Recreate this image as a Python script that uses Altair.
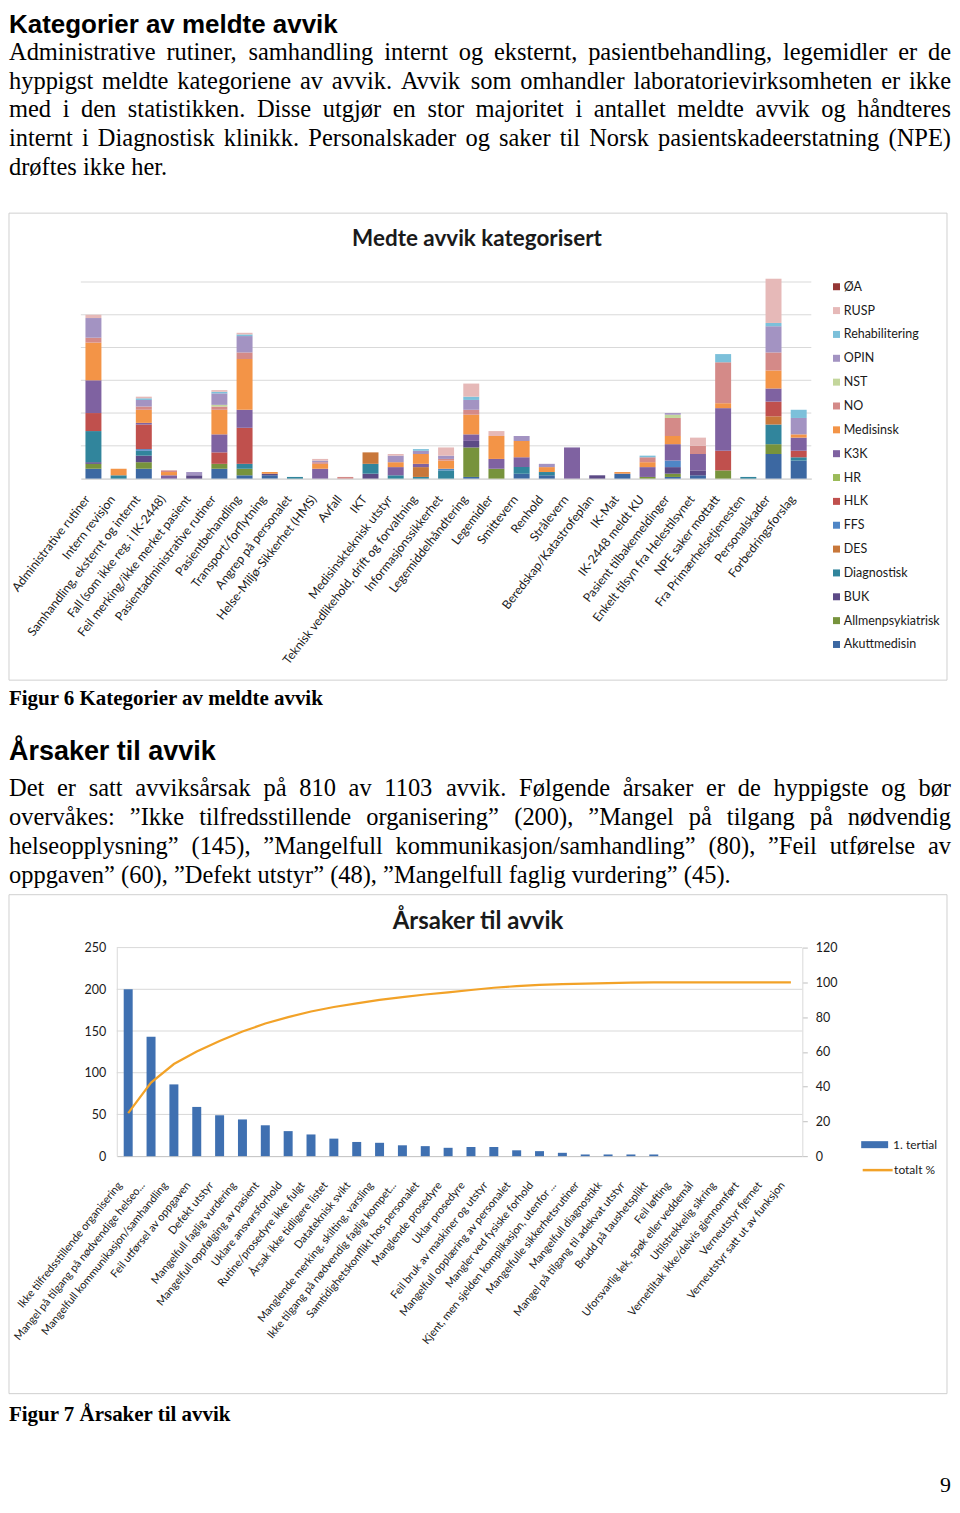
import altair as alt
import pandas as pd

# ------------------------------------------------------------------ page text
heading1 = "Kategorier av meldte avvik"
para1 = [
    "Administrative rutiner, samhandling internt og eksternt, pasientbehandling, legemidler er de",
    "hyppigst meldte kategoriene av avvik. Avvik som omhandler laboratorievirksomheten er ikke",
    "med i den statistikken. Disse utgjør en stor majoritet i antallet meldte avvik og håndteres",
    "internt i Diagnostisk klinikk. Personalskader og saker til Norsk pasientskadeerstatning (NPE)",
    "drøftes ikke her.",
]
caption1 = "Figur 6 Kategorier av meldte avvik"
heading2 = "Årsaker til avvik"
para2 = [
    "Det er satt avviksårsak på 810 av 1103 avvik. Følgende årsaker er de hyppigste og bør",
    "overvåkes: ”Ikke tilfredsstillende organisering” (200), ”Mangel på tilgang på nødvendig",
    "helseopplysning” (145), ”Mangelfull kommunikasjon/samhandling” (80), ”Feil utførelse av",
    "oppgaven” (60), ”Defekt utstyr” (48), ”Mangelfull faglig vurdering” (45).",
]
caption2 = "Figur 7 Årsaker til avvik"
page_number = "9"

# ------------------------------------------------------------------ figure 6 data
title1 = "Medte avvik kategorisert"
categories1 = [
    "Administrative rutiner", "Intern revisjon", "Samhandling, eksternt og internt",
    "Fall (som ikke reg. i IK-2448)", "Feil merking/ikke merket pasient",
    "Pasientadministrative rutiner", "Pasientbehandling", "Transport/forflytning",
    "Angrep på personalet", "Helse-Miljø-Sikkerhet (HMS)", "Avfall", "IKT",
    "Medisinskteknisk utstyr", "Teknisk vedlikehold, drift og forvaltning",
    "Informasjonssikkerhet", "Legemiddelhåndtering", "Legemidler", "Smittevern",
    "Renhold", "Strålevern", "Beredskap/Katastrofeplan", "IK-Mat", "IK-2448 meldt KU",
    "Pasient tilbakemeldinger", "Enkelt tilsyn fra Helestilsynet", "NPE saker mottatt",
    "Fra Primærhelsetjenesten", "Personalskader", "Forbedringsforslag",
]
akuttmedisin      = [6,0,6,0,0,6,2,2,0,0,0,0,0,0,0,1,0,3,2,0,0,3,0,1,2,0,0,15,11]
allmenpsykiatrisk = [3,0,4,0,0,3,4,0,0,0,0,0,0,0,0,18,6,0,0,0,0,0,1,2,0,5,0,6,0]
buk               = [1,0,4,0,2,0,0,1,0,0,0,3,0,0,0,4,0,0,0,0,2,0,0,4,3,0,0,0,0]
diagnostisk       = [19,2,3,0,0,0,3,0,1,0,0,6,2,1,5,0,0,4,2,0,0,0,0,0,0,0,1,12,2]
des               = [0,0,0,0,0,0,0,0,0,0,0,7,0,6,0,0,0,0,0,0,0,0,0,0,0,0,0,5,0]
ffs               = [0,0,1,0,0,0,0,0,0,0,0,0,0,0,1,0,0,0,0,0,0,0,0,4,0,0,0,0,0]
hlk               = [11,0,15,0,0,7,22,0,0,0,0,0,0,0,0,0,0,0,0,0,0,0,0,0,0,12,0,9,4]
hr                = [0]*29
k3k               = [20,0,1,2,0,11,11,0,0,6,0,0,5,2,0,4,6,6,0,19,0,0,6,10,10,26,0,8,8]
medisinsk         = [23,4,8,2,0,15,31,1,0,3,0,0,3,6,5,12,14,10,3,0,0,1,3,5,0,3,0,11,2]
no_               = [3,0,2,1,0,2,4,0,0,1,1,0,0,0,1,3,0,0,0,0,0,0,3,11,5,25,0,11,0]
nst               = [0,0,0,0,0,1,0,0,0,0,0,0,0,0,0,0,0,0,0,0,0,0,0,2,0,0,0,0,0]
opin              = [12,0,4,0,2,7,10,0,0,1,0,0,4,2,2,6,0,3,2,0,0,0,0,1,0,0,0,16,10]
rehabilitering    = [0,0,1,0,0,1,1,0,0,0,0,0,0,1,0,2,0,0,0,0,0,0,1,0,0,5,0,2,5]
rusp              = [2,0,1,0,0,1,1,0,0,1,0,0,1,0,5,8,3,0,0,0,0,0,0,0,5,0,0,27,0]
oa                = [0]*29

stack_order = ["Akuttmedisin", "Allmenpsykiatrisk", "BUK", "Diagnostisk", "DES", "FFS",
               "HLK", "HR", "K3K", "Medisinsk", "NO", "NST", "OPIN", "Rehabilitering",
               "RUSP", "ØA"]
series_lists = [akuttmedisin, allmenpsykiatrisk, buk, diagnostisk, des, ffs, hlk, hr, k3k,
                medisinsk, no_, nst, opin, rehabilitering, rusp, oa]
legend_order = list(reversed(stack_order))
series_colors = {
    "ØA": "#953735", "RUSP": "#e6b9b8", "Rehabilitering": "#7cc0da", "OPIN": "#a393c2",
    "NST": "#c3d69b", "NO": "#d48a88", "Medisinsk": "#f39447", "K3K": "#7f62a1",
    "HR": "#9bbb59", "HLK": "#c0504d", "FFS": "#4f86c6", "DES": "#c8773a",
    "Diagnostisk": "#31859c", "BUK": "#5c4a86", "Allmenpsykiatrisk": "#77933c",
    "Akuttmedisin": "#3c68a2",
}
ticks1 = [0, 20, 40, 60, 80, 100, 120]

# ------------------------------------------------------------------ figure 7 data
title2 = "Årsaker til avvik"
causes = [
    "Ikke tilfredsstillende organisering", "Mangel på tilgang på nødvendige helseo...",
    "Mangelfull kommunikasjon/samhandling", "Feil utførsel av oppgaven", "Defekt utstyr",
    "Mangelfull faglig vurdering", "Mangelfull oppfølging av pasient", "Uklare ansvarsforhold",
    "Rutine/prosedyre ikke fulgt", "Årsak ikke tidligere listet", "Datateknisk svikt",
    "Manglende merking, skilting, varsling", "Ikke tilgang på nødvendig faglig kompet...",
    "Samtidighetskonflikt hos personalet", "Manglende prosedyre", "Uklar prosedyre",
    "Feil bruk av maskiner og utstyr", "Mangelfull opplæring av personalet",
    "Mangler ved fysiske forhold", "Kjent, men sjelden komplikasjon, utenfor ...",
    "Mangelfulle sikkerhetsrutiner", "Mangelfull diagnostikk",
    "Mangel på tilgang til adekvat utstyr", "Brudd på taushetsplikt", "Feil løfting",
    "Uforsvarlig lek, spøk eller veddemål", "Utilstrekkelig sikring",
    "Vernetiltak ikke/delvis gjennomført", "Verneutstyr fjernet",
    "Verneutstyr satt ut av funksjon",
]
tertial1 = [200,143,86,59,49,44,37,30,26,21,17,16,13,12,10,11,11,7,6,4,2,2,2,2,0,0,0,0,0,0]
totalt_pct = [24.7,42.3,53.0,60.2,66.3,71.7,76.3,80.0,83.2,85.8,87.9,89.9,91.5,93.0,94.2,
              95.6,96.9,97.8,98.5,99.0,99.3,99.5,99.8,100,100,100,100,100,100,100]
ticks2_left = [0, 50, 100, 150, 200, 250]
ticks2_right = [0, 20, 40, 60, 80, 100, 120]
bar_color = "#3f70b1"
line_color = "#f2a228"

# ------------------------------------------------------------------ text helpers
_TW = {' ': 250, '!': 333, '(': 333, ')': 333, ',': 250, '-': 333, '.': 250, '/': 278,
       ':': 278, ';': 278, '%': 833, '”': 444, '“': 444, '"': 408}
for _c in '0123456789':
    _TW[_c] = 500
_TW.update(dict(zip('ABCDEFGHIJKLMNOPQRSTUVWXYZ',
    [722,667,667,722,611,556,722,722,333,389,722,611,889,722,722,556,722,667,556,611,722,722,944,722,722,611])))
_TW.update(dict(zip('abcdefghijklmnopqrstuvwxyz',
    [444,500,444,500,444,333,500,500,278,278,500,278,778,500,500,500,500,333,389,278,500,500,722,500,500,444])))
_TW.update({'å': 444, 'ø': 500, 'æ': 667, 'Å': 722, 'Ø': 722, 'Æ': 889})


def serif_width(s, fs):
    return sum(_TW.get(c, 500) for c in s) * fs / 1000.0


def justify(lines, baselines, fs, left, right):
    rows = []
    for k, (line, yb) in enumerate(zip(lines, baselines)):
        words = line.split(' ')
        if k == len(lines) - 1 or len(words) == 1:
            gap = _TW[' '] * fs / 1000.0
        else:
            total = sum(serif_width(w, fs) for w in words)
            gap = (right - left - total) / (len(words) - 1)
        x = left
        for w in words:
            rows.append({'word': w, 'px': x, 'py': yb})
            x += serif_width(w, fs) + gap
    return pd.DataFrame(rows)


def single(txt, x, y):
    return pd.DataFrame({'word': [txt], 'px': [x], 'py': [y]})


def text_layer(df, font, size, weight='normal', align='left'):
    return alt.Chart(df).mark_text(
        align=align, baseline='alphabetic', font=font, fontSize=size,
        fontWeight=weight, color='#000000'
    ).encode(
        x=alt.X('px:Q', scale=None, axis=None),
        y=alt.Y('py:Q', scale=None, axis=None),
        text='word:N',
    )


SERIF = 'Liberation Serif'
SANS = 'Liberation Sans'
CF = 'Lato'
LC = '#1a1a1a'
PFS = 24.5
RIGHT = 944
W, H = 944, 1480

# layout (pixels inside the page content box)
P1_X = [72, 804]          # plot area of figure 6
P1_Y = [470, 273]
P2_X = [108, 795]         # plot area of figure 7
P2_Y = [1149, 940]

one = pd.DataFrame({'f': [1]})

texts = [
    text_layer(single(heading1, 0, 23.5), SANS, 26, 'bold'),
    text_layer(justify(para1, [50.5, 79.2, 107.9, 136.6, 165.3], PFS, 0, RIGHT), SERIF, PFS),
    text_layer(single(caption1, 0, 697), SERIF, 21, 'bold'),
    text_layer(single(heading2, 0, 752), SANS, 27, 'bold'),
    text_layer(justify(para2, [788, 817.2, 846.4, 875.6], PFS, 0, RIGHT), SERIF, PFS),
    text_layer(single(caption2, 0, 1414), SERIF, 21, 'bold'),
    text_layer(single(page_number, 944, 1486), SERIF, 22, 'normal', 'right'),
]

# ------------------------------------------------------------------ figure 6
rows = []
for k, (s, vals) in enumerate(zip(stack_order, series_lists)):
    for c, v in zip(categories1, vals):
        if v > 0:
            rows.append({'cat': c, 'series': s, 'val': v, 'ord': k})
df1 = pd.DataFrame(rows)

frame1 = alt.Chart(one).mark_rect(filled=False, stroke='#d0d0d0', strokeWidth=1).encode(
    x=alt.value(0), x2=alt.value(940), y=alt.value(204), y2=alt.value(672))
ttl1 = alt.Chart(one).mark_text(
    text=title1, font=CF, fontSize=22.5, fontWeight='bold', align='center',
    baseline='middle', color=LC).encode(x=alt.value(469), y=alt.value(230))

y1_scale = alt.Scale(domain=[0, 120], range=P1_Y, nice=False, zero=True)
grid1 = alt.Chart(pd.DataFrame({'t': ticks1[1:]})).mark_rule(color='#d9d9d9', strokeWidth=1).encode(
    y=alt.Y('t:Q', scale=y1_scale, axis=None),
    x=alt.value(P1_X[0]), x2=alt.value(P1_X[1]))

bars1 = alt.Chart(df1).mark_bar(size=16).encode(
    x=alt.X('cat:N', sort=categories1, title=None,
            scale=alt.Scale(range=P1_X, paddingInner=0, paddingOuter=0),
            axis=alt.Axis(orient='bottom', offset=P1_Y[0] - H, labelAngle=-52,
                          labelAlign='right', labelBaseline='middle', labelPadding=18,
                          labelOffset=-6, labelOverlap=False, labelLimit=400, ticks=False,
                          domainColor='#bfbfbf', labelFont=CF, labelFontSize=12.3,
                          labelColor=LC)),
    y=alt.Y('val:Q', stack='zero', title=None, scale=y1_scale,
            axis=alt.Axis(orient='left', offset=-P1_X[0], values=ticks1, grid=False,
                          domainColor='#d9d9d9', ticks=False, labelPadding=10,
                          labelFont=CF, labelFontSize=12, labelColor=LC)),
    color=alt.Color('series:N',
                    scale=alt.Scale(domain=legend_order,
                                    range=[series_colors[s] for s in legend_order]),
                    legend=alt.Legend(title=None, orient='none', legendX=823, legendY=271.5,
                                      symbolType='square', symbolSize=49, symbolStrokeWidth=0,
                                      labelFont=CF, labelFontSize=12.5, labelColor=LC,
                                      rowPadding=10.9, labelOffset=1, padding=0)),
    order=alt.Order('ord:Q', sort='ascending'),
)
fig1 = alt.layer(grid1, bars1)

# ------------------------------------------------------------------ figure 7
df2 = pd.DataFrame({'cause': causes, 'n': tertial1, 'pct': totalt_pct,
                    's1': '1. tertial', 's2': 'totalt %'})

frame2 = alt.Chart(one).mark_rect(filled=False, stroke='#d0d0d0', strokeWidth=1).encode(
    x=alt.value(0), x2=alt.value(940), y=alt.value(887), y2=alt.value(1387))
ttl2 = alt.Chart(one).mark_text(
    text=title2, font=CF, fontSize=24, fontWeight='bold', align='center',
    baseline='middle', color=LC).encode(x=alt.value(470), y=alt.value(914))

x2_scale = alt.Scale(range=P2_X, paddingInner=0, paddingOuter=0)
y2_scale = alt.Scale(domain=[0, 250], range=P2_Y, nice=False, zero=True)
yr_scale = alt.Scale(domain=[0, 120], range=P2_Y, nice=False, zero=True)

grid2 = alt.Chart(pd.DataFrame({'t': ticks2_left[1:]})).mark_rule(color='#d9d9d9', strokeWidth=1).encode(
    y=alt.Y('t:Q', scale=y2_scale, axis=None),
    x=alt.value(P2_X[0]), x2=alt.value(P2_X[1]))

bars2 = alt.Chart(df2).mark_bar(size=9).encode(
    x=alt.X('cause:N', sort=causes, title=None, scale=x2_scale,
            axis=alt.Axis(orient='bottom', offset=P2_Y[0] - H, labelAngle=-51,
                          labelAlign='right', labelBaseline='middle', labelPadding=27,
                          labelOffset=-8, labelOverlap=False, labelLimit=400, ticks=False,
                          domainColor='#bfbfbf', labelFont=CF, labelFontSize=11,
                          labelColor=LC)),
    y=alt.Y('n:Q', title=None, scale=y2_scale,
            axis=alt.Axis(orient='left', offset=-P2_X[0], values=ticks2_left, grid=False,
                          domainColor='#d9d9d9', ticks=False, labelPadding=11,
                          labelFont=CF, labelFontSize=12.5, labelColor=LC)),
    color=alt.Color('s1:N', scale=alt.Scale(domain=['1. tertial'], range=[bar_color]),
                    legend=alt.Legend(title=None, orient='none', legendX=854, legendY=1124,
                                      symbolType='M-1,-0.26H1V0.26H-1Z', symbolSize=729,
                                      symbolStrokeWidth=0, labelFont=CF, labelFontSize=12,
                                      labelColor=LC, labelOffset=5, padding=0)),
)
line2 = alt.Chart(df2).mark_line(strokeWidth=2.2).encode(
    x=alt.X('cause:N', sort=causes, title=None, scale=x2_scale),
    y=alt.Y('pct:Q', title=None, scale=yr_scale,
            axis=alt.Axis(orient='right', offset=P2_X[1] - W, values=ticks2_right, grid=False,
                          domainColor='#d9d9d9', ticks=True, tickSize=5, tickColor='#bfbfbf',
                          labelPadding=8, labelFont=CF, labelFontSize=12.5, labelColor=LC)),
    color=alt.Color('s2:N', scale=alt.Scale(domain=['totalt %'], range=[line_color]),
                    legend=alt.Legend(title=None, orient='none', legendX=854, legendY=1146.5,
                                      symbolType='stroke', symbolSize=900,
                                      symbolStrokeWidth=2.5, labelFont=CF, labelFontSize=12,
                                      labelColor=LC, labelOffset=0, padding=0)),
)
fig2 = alt.layer(grid2, bars2, line2).resolve_scale(y='independent', color='independent')

page = alt.layer(frame1, frame2, ttl1, ttl2, fig1, fig2, *texts).resolve_scale(
    x='independent', y='independent', color='independent'
).properties(
    width=W, height=H, background='white', padding=0,
).configure_view(stroke='transparent')

page.save("out.html", embed_options={"renderer": "svg", "actions": False})
